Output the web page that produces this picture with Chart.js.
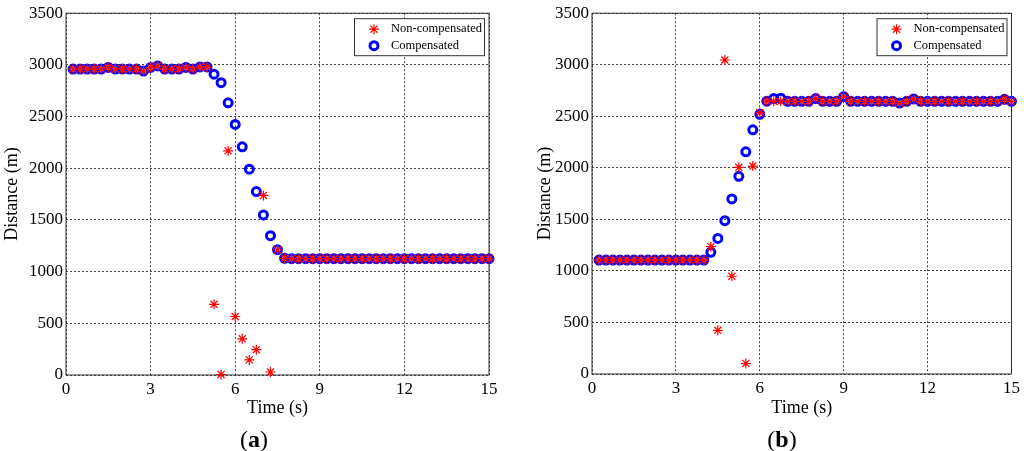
<!DOCTYPE html>
<html>
<head>
<meta charset="utf-8">
<script src="https://cdn.jsdelivr.net/npm/chart.js@4.4.1/dist/chart.umd.min.js"></script>
<style>
  html, body { margin: 0; padding: 0; background: #fff; }
  #wrap { position: relative; width: 1024px; height: 451px; overflow: hidden; }
  canvas { position: absolute; top: 0; }
  .cap { position: absolute; top: 426px; font-family: "Liberation Serif", serif; font-size: 24px; line-height: 26px; transform: translateX(-50%); color: #000; }
</style>
</head>
<body>
<div id="wrap">
  <canvas id="chartA" width="512" height="451" style="left:0"></canvas>
  <canvas id="chartB" width="512" height="451" style="left:512px"></canvas>
  <div class="cap" style="left:254px">(<b>a</b>)</div>
  <div class="cap" style="left:782px">(<b>b</b>)</div>
</div>
<script>
"use strict";

const timeSec = [
  0.25, 0.5, 0.75, 1, 1.25, 1.5, 1.75, 2, 2.25, 2.5, 2.75, 3,
  3.25, 3.5, 3.75, 4, 4.25, 4.5, 4.75, 5, 5.25, 5.5, 5.75, 6,
  6.25, 6.5, 6.75, 7, 7.25, 7.5, 7.75, 8, 8.25, 8.5, 8.75, 9,
  9.25, 9.5, 9.75, 10, 10.25, 10.5, 10.75, 11, 11.25, 11.5, 11.75, 12,
  12.25, 12.5, 12.75, 13, 13.25, 13.5, 13.75, 14, 14.25, 14.5, 14.75, 15
];

// (a)
const compA = [
  2960, 2960, 2960, 2960, 2960, 2975, 2960, 2960, 2960, 2960, 2940, 2975,
  2990, 2960, 2960, 2960, 2975, 2960, 2980, 2980, 2910, 2828, 2633, 2424,
  2207, 1991, 1775, 1549, 1348, 1212, 1129, 1125, 1125, 1125, 1125, 1125,
  1125, 1125, 1125, 1125, 1125, 1125, 1125, 1125, 1125, 1125, 1125, 1125,
  1125, 1125, 1125, 1125, 1125, 1125, 1125, 1125, 1125, 1125, 1125, 1125
];
const nonCompA = [
  2960, 2960, 2960, 2960, 2960, 2975, 2960, 2960, 2960, 2960, 2940, 2975,
  2990, 2960, 2960, 2960, 2975, 2960, 2980, 2980, 684, 5, 2169, 566,
  350, 146, 245, 1737, 29, 1209, 1129, 1125, 1125, 1125, 1125, 1125,
  1125, 1125, 1125, 1125, 1125, 1125, 1125, 1125, 1125, 1125, 1125, 1125,
  1125, 1125, 1125, 1125, 1125, 1125, 1125, 1125, 1125, 1125, 1125, 1125
];

// (b)
const compB = [
  1105, 1105, 1105, 1105, 1105, 1105, 1105, 1105, 1105, 1105, 1105, 1105,
  1105, 1105, 1105, 1105, 1181, 1315, 1487, 1698, 1918, 2155, 2369, 2519,
  2647, 2672, 2675, 2645, 2645, 2645, 2645, 2672, 2645, 2645, 2645, 2690,
  2645, 2645, 2645, 2645, 2645, 2645, 2645, 2628, 2645, 2668, 2645, 2645,
  2645, 2645, 2645, 2645, 2645, 2645, 2645, 2645, 2645, 2645, 2665, 2645
];
const nonCompB = [
  1105, 1105, 1105, 1105, 1105, 1105, 1105, 1105, 1105, 1105, 1105, 1105,
  1105, 1105, 1105, 1105, 1235, 424, 3046, 948, 2005, 102, 2017, 2534,
  2647, 2645, 2645, 2645, 2645, 2645, 2645, 2672, 2645, 2645, 2645, 2690,
  2645, 2645, 2645, 2645, 2645, 2645, 2645, 2628, 2645, 2668, 2645, 2645,
  2645, 2645, 2645, 2645, 2645, 2645, 2645, 2645, 2645, 2645, 2665, 2645
];

const seriesNames = ["Non-compensated", "Compensated"];
const xTicks = [0, 3, 6, 9, 12, 15];
const yTicks = [0, 500, 1000, 1500, 2000, 2500, 3000, 3500];

const SERIF = "'Liberation Serif', 'Times New Roman', serif";
Chart.defaults.font.family = SERIF;
Chart.defaults.color = "#000";

function toPoints(values) {
  return values.map((v, i) => ({ x: timeSec[i], y: v }));
}

// matlab style box around the axes
const framePlugin = {
  id: "frame",
  beforeDatasetsDraw(chart) {
    const { ctx, chartArea: a } = chart;
    ctx.save();
    ctx.strokeStyle = "#333";
    ctx.lineWidth = 1;
    ctx.setLineDash([]);
    ctx.strokeRect(a.left, a.top, a.right - a.left, a.bottom - a.top);
    ctx.restore();
  },
};

// legend box inside the plot, top right
const boxLegendPlugin = {
  id: "boxLegend",
  afterDatasetsDraw(chart) {
    const { ctx, chartArea: a } = chart;
    const w = 130, h = 37;
    const x = a.right - 4.5 - w;
    const y = a.top + 5.5;
    ctx.save();
    ctx.fillStyle = "#fff";
    ctx.fillRect(x, y, w, h);
    ctx.strokeStyle = "#333";
    ctx.lineWidth = 1;
    ctx.strokeRect(x, y, w, h);

    chart.data.datasets.forEach((ds, i) => {
      const cx = x + 19.5;
      const cy = y + 10.5 + i * 16.5;
      ctx.strokeStyle = ds.borderColor;
      ctx.lineWidth = ds.borderWidth;
      ctx.beginPath();
      if (ds.pointStyle === "circle") {
        ctx.arc(cx, cy, ds.pointRadius, 0, Math.PI * 2);
      } else {
        const r = ds.pointRadius;
        for (let k = 0; k < 4; k++) {
          const ang = (k * Math.PI) / 4;
          ctx.moveTo(cx - Math.cos(ang) * r, cy - Math.sin(ang) * r);
          ctx.lineTo(cx + Math.cos(ang) * r, cy + Math.sin(ang) * r);
        }
      }
      ctx.stroke();
      ctx.fillStyle = "#000";
      ctx.font = "12.5px " + SERIF;
      ctx.textBaseline = "middle";
      ctx.textAlign = "left";
      ctx.fillText(ds.label, x + 36.5, cy);
    });
    ctx.restore();
  },
};

function makeChart(canvasId, nonComp, comp, box) {
  const ctx = document.getElementById(canvasId).getContext("2d");
  return new Chart(ctx, {
    type: "scatter",
    data: {
      datasets: [
        {
          label: seriesNames[0],
          data: toPoints(nonComp),
          pointStyle: "star",
          pointRadius: 5,
          borderWidth: 1.2,
          borderColor: "#ff0000",
          backgroundColor: "#ff0000",
          clip: false,
        },
        {
          label: seriesNames[1],
          data: toPoints(comp),
          pointStyle: "circle",
          pointRadius: 4,
          borderWidth: 3,
          borderColor: "#0000ff",
          backgroundColor: "rgba(0,0,0,0)",
          clip: false,
        },
      ],
    },
    options: {
      responsive: false,
      animation: false,
      events: [],
      layout: {
        padding: { left: box.padLeft, right: box.padRight, top: 8, bottom: 0 },
      },
      plugins: {
        legend: { display: false },
        tooltip: { enabled: false },
      },
      scales: {
        x: {
          type: "linear",
          min: 0,
          max: 15,
          afterBuildTicks: (scale) => {
            scale.ticks = xTicks.map((v) => ({ value: v }));
          },
          afterFit: (scale) => {
            scale.height = box.xHeight;
          },
          ticks: {
            font: { size: 17 },
            color: "#000",
            padding: 4,
            callback: (value) => String(value),
          },
          grid: { color: "#444", lineWidth: 1, drawTicks: false, borderDash: [2, 2] },
          border: { display: false, dash: [2, 2] },
          title: {
            display: true,
            text: "Time (s)",
            font: { size: 18 },
            color: "#000",
            padding: { top: 0, bottom: 32 },
          },
        },
        y: {
          type: "linear",
          min: 0,
          max: 3500,
          afterBuildTicks: (scale) => {
            scale.ticks = yTicks.map((v) => ({ value: v }));
          },
          afterFit: (scale) => {
            scale.width = box.yWidth;
          },
          ticks: {
            font: { size: 17 },
            color: "#000",
            padding: 3,
            callback: (value) => String(value),
          },
          grid: { color: "#444", lineWidth: 1, drawTicks: false, borderDash: [2, 2] },
          border: { display: false, dash: [2, 2] },
          title: {
            display: true,
            text: "Distance (m)",
            font: { size: 18 },
            color: "#000",
            padding: { top: box.titlePad, bottom: 0 },
          },
        },
      },
    },
    plugins: [framePlugin, boxLegendPlugin],
  });
}

makeChart("chartA", nonCompA, compA, {
  padLeft: 0, padRight: 23, yWidth: 66, xHeight: 76, titlePad: 1.5,
});
makeChart("chartB", nonCompB, compB, {
  padLeft: 20, padRight: 10, yWidth: 60, xHeight: 77, titlePad: 2,
});
</script>
</body>
</html>
